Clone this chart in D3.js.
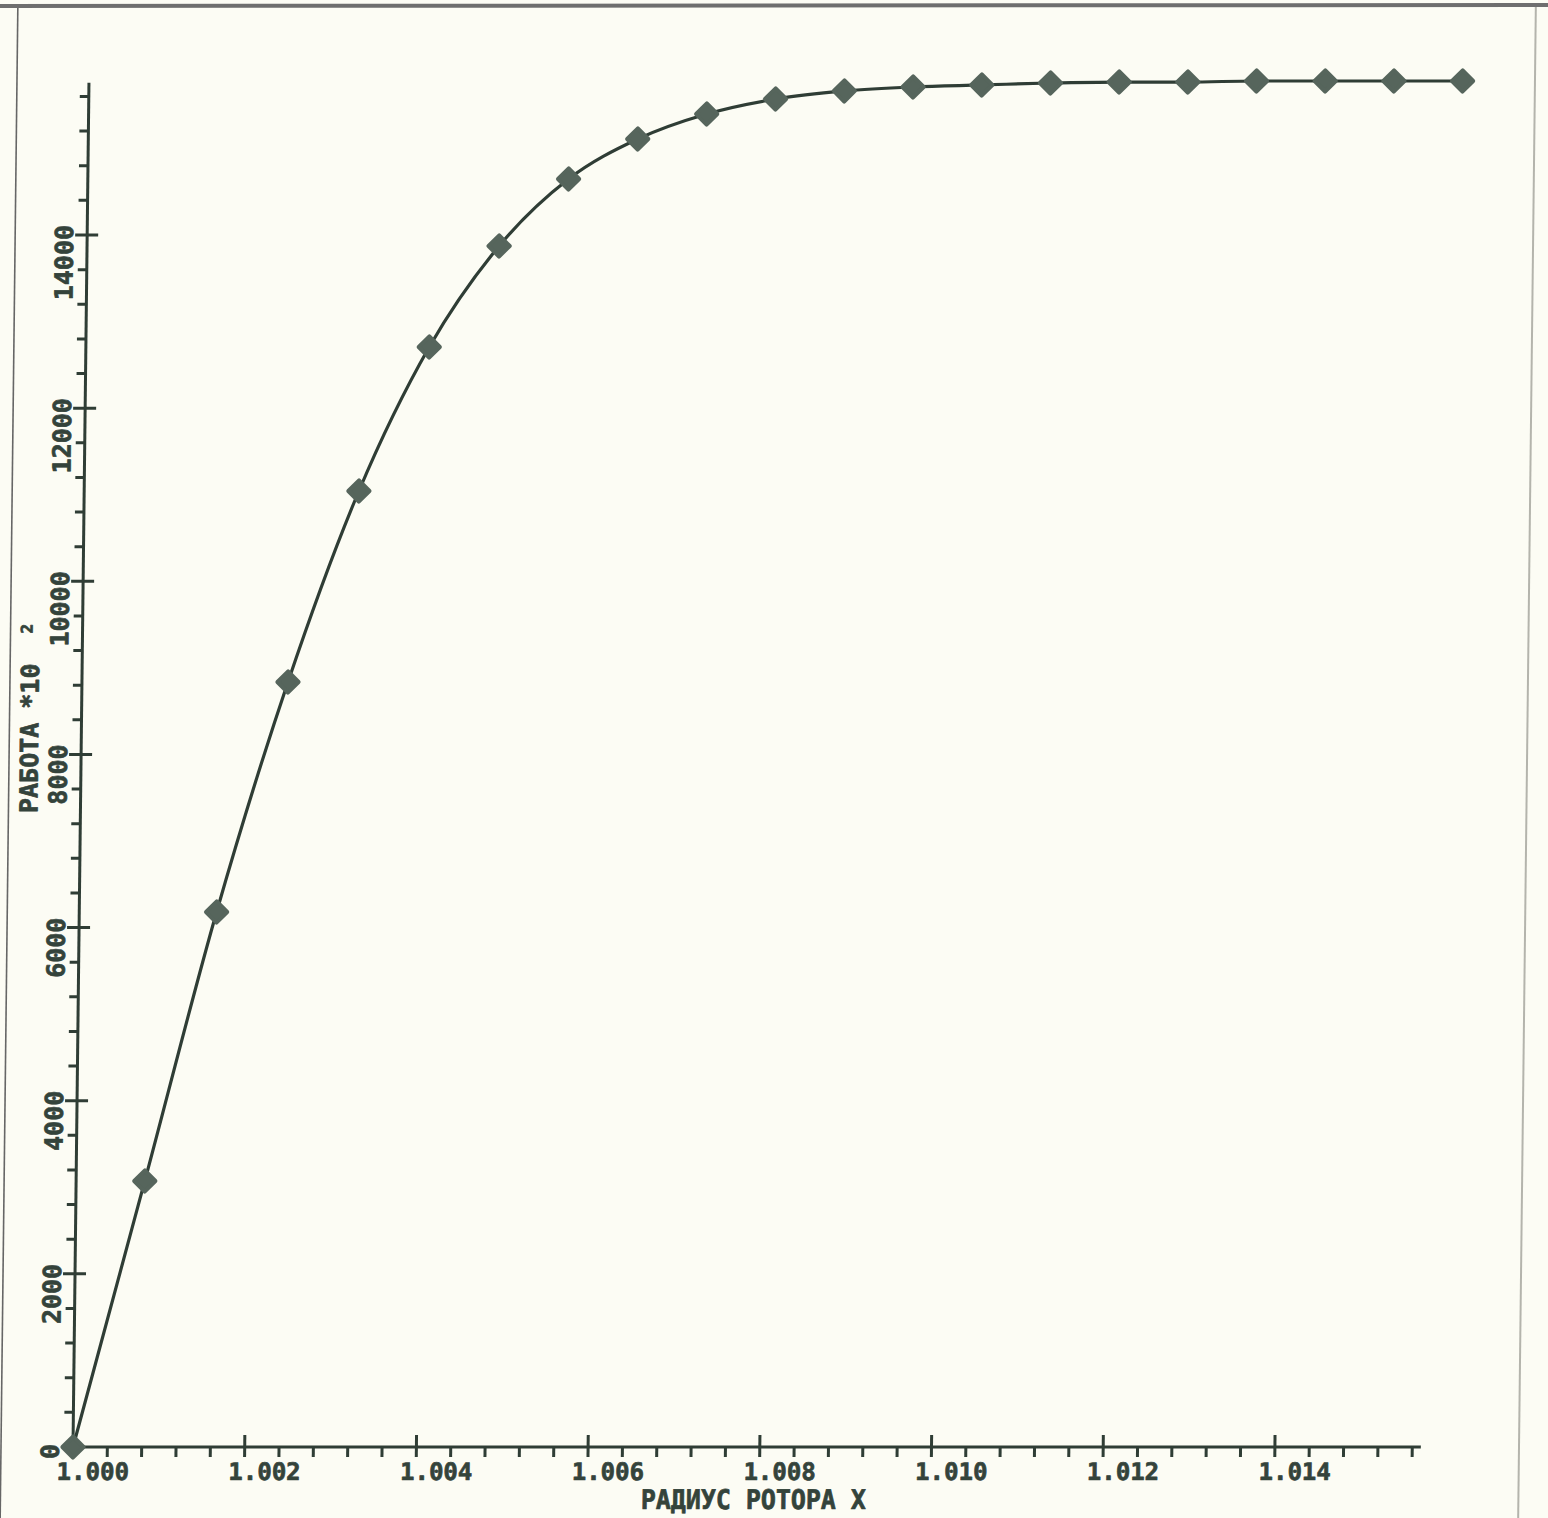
<!DOCTYPE html>
<html>
<head>
<meta charset="utf-8">
<script src="https://cdn.jsdelivr.net/npm/d3@7"></script>
<style>
  html, body { margin: 0; padding: 0; background: #fcfcf4; }
  svg { display: block; }
  text { font-family: "DejaVu Sans Mono", "Liberation Mono", monospace; font-weight: bold; fill: #34433b;
         stroke: #34433b; stroke-width: 0.7px; stroke-linejoin: round; }
</style>
</head>
<body>
<script>
// ---- data ----
const radius = [1.0000, 1.0008, 1.0016, 1.0024, 1.0032, 1.0040, 1.0048, 1.0056, 1.0064, 1.0072,
                1.0080, 1.0088, 1.0096, 1.0104, 1.0112, 1.0120, 1.0128, 1.0136, 1.0144, 1.0152, 1.0160];
const work = [0, 3073, 6180, 8837, 11043, 12706, 13873, 14647, 15109, 15398,
              15571, 15664, 15710, 15733, 15756, 15767, 15767, 15779, 15779, 15779, 15779];

const xMajorTicks = [1.000, 1.002, 1.004, 1.006, 1.008, 1.010, 1.012, 1.014];
const xTickLabels = ["1.000", "1.002", "1.004", "1.006", "1.008", "1.010", "1.012", "1.014"];
const yMajorTicks = [0, 2000, 4000, 6000, 8000, 10000, 12000, 14000];
const yTickLabels = ["0", "2000", "4000", "6000", "8000", "10000", "12000", "14000"];
const xAxisEnd = 1.0157;
const yAxisEnd = 15760;
const xMinorStep = 0.0004;
const yMinorStep = 400;

const xTitle = "РАДИУС РОТОРА X";
const yTitle = "РАБОТА *10";
const yTitleSup = "2";

// ---- layout ----
const W = 1548, H = 1518;
const ink = "#2f3d35";
const markFill = "#56655c";

const svg = d3.select("body").append("svg").attr("width", W).attr("height", H);
svg.append("rect").attr("width", W).attr("height", H).attr("fill", "#fcfcf4");

const baseY = 1447;
// the scanned sheet is slightly sheared
const g = svg.append("g")
  .attr("transform", `translate(0,${baseY}) skewX(-0.67) translate(0,${-baseY})`);

// paper frame
g.append("line").attr("x1", 1).attr("y1", 7).attr("x2", 1).attr("y2", H + 5)
  .attr("stroke", "#666").attr("stroke-width", 1.6);
g.append("line").attr("x1", -20).attr("y1", 6).attr("x2", W + 20).attr("y2", 5)
  .attr("stroke", "#6e6e6e").attr("stroke-width", 4);
g.append("line").attr("x1", 1519).attr("y1", 7).attr("x2", 1519).attr("y2", H + 5)
  .attr("stroke", "#b4b4ac").attr("stroke-width", 2);

const x = d3.scaleLinear().domain([1.000, 1.016]).range([73, 73 + 16 * 85.85]);
const y = d3.scaleLinear().domain([0, 14000]).range([baseY, 235]);

const x0 = x(1.000), y0 = y(0);

// axes lines
g.append("line").attr("x1", x0 - 6).attr("y1", y0).attr("x2", x(xAxisEnd)).attr("y2", y0)
  .attr("stroke", ink).attr("stroke-width", 3);
g.append("line").attr("x1", x0).attr("y1", y0).attr("x2", x0).attr("y2", y(yAxisEnd))
  .attr("stroke", ink).attr("stroke-width", 3);

// x ticks
const xMinor = d3.range(1.000 + xMinorStep, xAxisEnd + 1e-9, xMinorStep)
  .filter(v => Math.abs(Math.round(v / 0.002) * 0.002 - v) > 1e-7);
g.selectAll(".xminor").data(xMinor).join("line")
  .attr("x1", d => x(d)).attr("x2", d => x(d)).attr("y1", y0).attr("y2", y0 + 10)
  .attr("stroke", ink).attr("stroke-width", 3);
g.selectAll(".xmajor").data(xMajorTicks.slice(1)).join("line")
  .attr("x1", d => x(d)).attr("x2", d => x(d)).attr("y1", y0 - 12).attr("y2", y0 + 10)
  .attr("stroke", ink).attr("stroke-width", 3);
g.selectAll(".xlab").data(xMajorTicks).join("text")
  .attr("x", d => x(d) - 16).attr("y", 1480)
  .attr("font-size", 24).attr("text-anchor", "start")
  .text((d, i) => xTickLabels[i]);

// y ticks
const yMinor = d3.range(yMinorStep, yAxisEnd, yMinorStep).filter(v => v % 2000 !== 0);
g.selectAll(".yminor").data(yMinor).join("line")
  .attr("x1", x0 - 9).attr("x2", x0).attr("y1", d => y(d)).attr("y2", d => y(d))
  .attr("stroke", ink).attr("stroke-width", 3);
g.selectAll(".ymajor").data(yMajorTicks.slice(1)).join("line")
  .attr("x1", x0 - 12).attr("x2", x0 + 11).attr("y1", d => y(d)).attr("y2", d => y(d))
  .attr("stroke", ink).attr("stroke-width", 3);
g.selectAll(".ylab").data(yMajorTicks).join("text")
  .attr("transform", d => `translate(${x0 - 14},${y(d) - (d === 0 ? 3 : 10)}) rotate(-90)`)
  .attr("font-size", 25).attr("text-anchor", "end")
  .text((d, i) => yTickLabels[i]);

// axis titles
g.append("text").attr("x", 754).attr("y", 1509).attr("text-anchor", "middle")
  .attr("font-size", 27).attr("textLength", 225).attr("lengthAdjust", "spacingAndGlyphs")
  .text(xTitle);
const yt = g.append("text").attr("transform", `translate(30,813) rotate(-90)`)
  .attr("font-size", 25).attr("text-anchor", "start");
yt.append("tspan").text(yTitle.split(" ")[0]);
yt.append("tspan").attr("dx", 14).text(yTitle.split(" ")[1]);
yt.append("tspan").attr("dx", 30).attr("dy", -7).attr("font-size", 16).text(yTitleSup);

// curve
const pts = radius.map((r, i) => [r, work[i]]);
g.append("path").datum(pts)
  .attr("d", d3.line().x(d => x(d[0])).y(d => y(d[1])).curve(d3.curveMonotoneX))
  .attr("fill", "none").attr("stroke", ink).attr("stroke-width", 3.2);

// markers
g.selectAll(".mk").data(pts).join("path")
  .attr("transform", d => `translate(${x(d[0])},${y(d[1])}) rotate(45)`)
  .attr("d", d3.symbol().type(d3.symbolSquare).size(225))
  .attr("fill", markFill).attr("stroke", markFill).attr("stroke-width", 4)
  .attr("stroke-linejoin", "round");
</script>
</body>
</html>
